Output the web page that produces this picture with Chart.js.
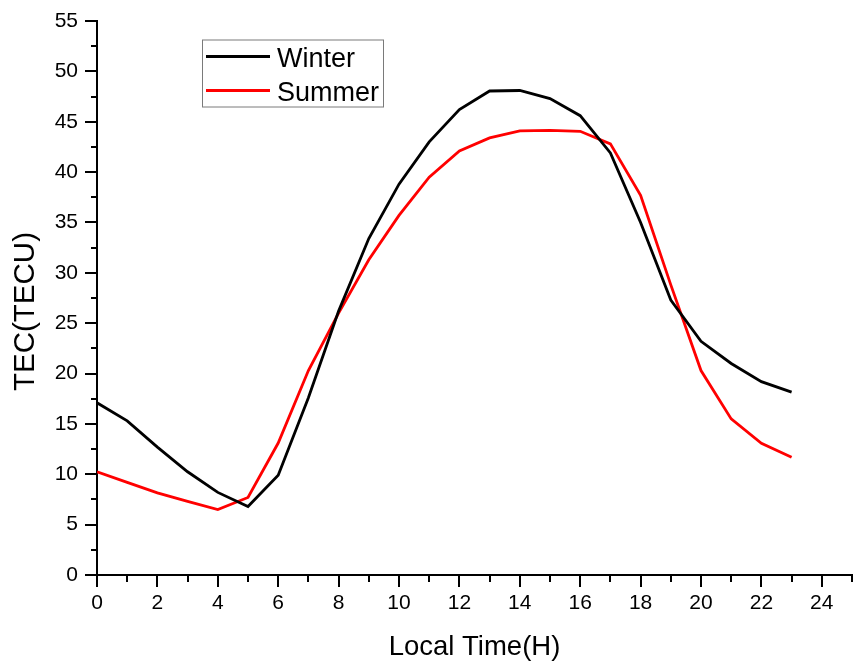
<!DOCTYPE html>
<html>
<head>
<meta charset="utf-8">
<script src="https://cdn.jsdelivr.net/npm/chart.js@4/dist/chart.umd.min.js"></script>
<style>
  html, body { margin: 0; padding: 0; background: #fff; }
  #wrap { width: 861px; height: 667px; position: relative; }
</style>
</head>
<body>
<div id="wrap"><canvas id="c" width="861" height="667"></canvas></div>
<script>
// ---- data ----
const hours = [0,1,2,3,4,5,6,7,8,9,10,11,12,13,14,15,16,17,18,19,20,21,22,23];
const winterTEC = [17.1,15.3,12.7,10.25,8.2,6.8,9.9,17.6,26.2,33.4,38.8,43.0,46.2,48.05,48.1,47.3,45.6,41.9,35.0,27.3,23.2,21.0,19.2,18.15];
const summerTEC = [10.25,9.2,8.15,7.3,6.5,7.7,13.1,20.3,26.0,31.3,35.7,39.5,42.1,43.4,44.1,44.15,44.05,42.8,37.7,28.8,20.3,15.5,13.07,11.68];
const seriesLabels = ['Winter', 'Summer'];
const xTitle = 'Local Time(H)';
const yTitle = 'TEC(TECU)';
const xMin = 0, xMax = 25, yMin = 0, yMax = 55;

const FONT = "'Liberation Sans', Arial, sans-serif";

const tickPlugin = {
  id: 'customTicks',
  afterDraw(chart) {
    const ctx = chart.ctx;
    const xs = chart.scales.x, ys = chart.scales.y;
    const bottom = chart.chartArea.bottom, left = chart.chartArea.left;
    ctx.save();
    ctx.strokeStyle = '#000';
    ctx.lineWidth = 2;
    for (let v = xMin; v <= xMax; v += 1) {
      const px = Math.round(xs.getPixelForValue(v));
      const len = (v % 2 === 0) ? 12 : 7;
      ctx.beginPath();
      ctx.moveTo(px, bottom);
      ctx.lineTo(px, bottom + len);
      ctx.stroke();
    }
    for (let v = yMin; v <= yMax; v += 2.5) {
      const py = Math.round(ys.getPixelForValue(v));
      const len = (v % 5 === 0) ? 12 : 6;
      ctx.beginPath();
      ctx.moveTo(left, py);
      ctx.lineTo(left - len, py);
      ctx.stroke();
    }
    // y-axis title
    ctx.save();
    ctx.translate(34, 311.5);
    ctx.rotate(-Math.PI / 2);
    ctx.fillStyle = '#000';
    ctx.font = '29.5px ' + FONT;
    ctx.textAlign = 'center';
    ctx.textBaseline = 'alphabetic';
    ctx.fillText(yTitle, 0, 0);
    ctx.restore();
    // legend box
    const bx = 202, by = 39.5, bw = 181, bh = 67;
    ctx.lineWidth = 1;
    ctx.strokeStyle = '#7a7a7a';
    ctx.strokeRect(bx + 0.5, by + 0.5, bw, bh);
    const rows = [56.5, 90.5];
    const baselines = [66.5, 101];
    chart.data.datasets.forEach((ds, i) => {
      ctx.strokeStyle = ds.borderColor;
      ctx.lineWidth = 3;
      ctx.beginPath();
      ctx.moveTo(206, rows[i]);
      ctx.lineTo(270, rows[i]);
      ctx.stroke();
      ctx.fillStyle = '#000';
      ctx.font = '27px ' + FONT;
      ctx.textBaseline = 'alphabetic';
      ctx.textAlign = 'left';
      ctx.fillText(ds.label, 277, baselines[i]);
    });
    ctx.restore();
  }
};

function zeroPad(s) {
  s.paddingTop = 0; s.paddingBottom = 0; s.paddingLeft = 0; s.paddingRight = 0;
}

new Chart(document.getElementById('c'), {
  type: 'line',
  data: {
    datasets: [
      { label: seriesLabels[0], data: hours.map((h, i) => ({x: h, y: winterTEC[i]})), borderColor: '#000000', borderWidth: 2.8, pointRadius: 0, tension: 0, fill: false },
      { label: seriesLabels[1], data: hours.map((h, i) => ({x: h, y: summerTEC[i]})), borderColor: '#ff0000', borderWidth: 2.8, pointRadius: 0, tension: 0, fill: false }
    ]
  },
  options: {
    responsive: false,
    animation: false,
    devicePixelRatio: 1,
    layout: { padding: { top: 21, right: 9, left: 0, bottom: 0 } },
    plugins: { legend: { display: false }, tooltip: { enabled: false } },
    scales: {
      x: {
        type: 'linear', min: xMin, max: xMax,
        grid: { display: false, drawTicks: false },
        border: { display: true, color: '#000', width: 2 },
        ticks: {
          stepSize: 1, autoSkip: false, maxRotation: 0, color: '#000', padding: 16,
          font: { family: FONT, size: 21 },
          callback: v => (v % 2 === 0 ? String(v) : '')
        },
        title: { display: true, text: xTitle, color: '#000', font: { family: FONT, size: 27.5 }, padding: { top: 0, bottom: 3 } },
        afterFit: s => { s.height = 92; zeroPad(s); }
      },
      y: {
        type: 'linear', min: yMin, max: yMax,
        grid: { display: false, drawTicks: false },
        border: { display: true, color: '#000', width: 2 },
        ticks: { stepSize: 5, color: '#000', padding: 19, font: { family: FONT, size: 21 } },
        title: { display: false, text: yTitle },
        afterFit: s => { s.width = 97; zeroPad(s); }
      }
    }
  },
  plugins: [tickPlugin]
});
</script>
</body>
</html>
